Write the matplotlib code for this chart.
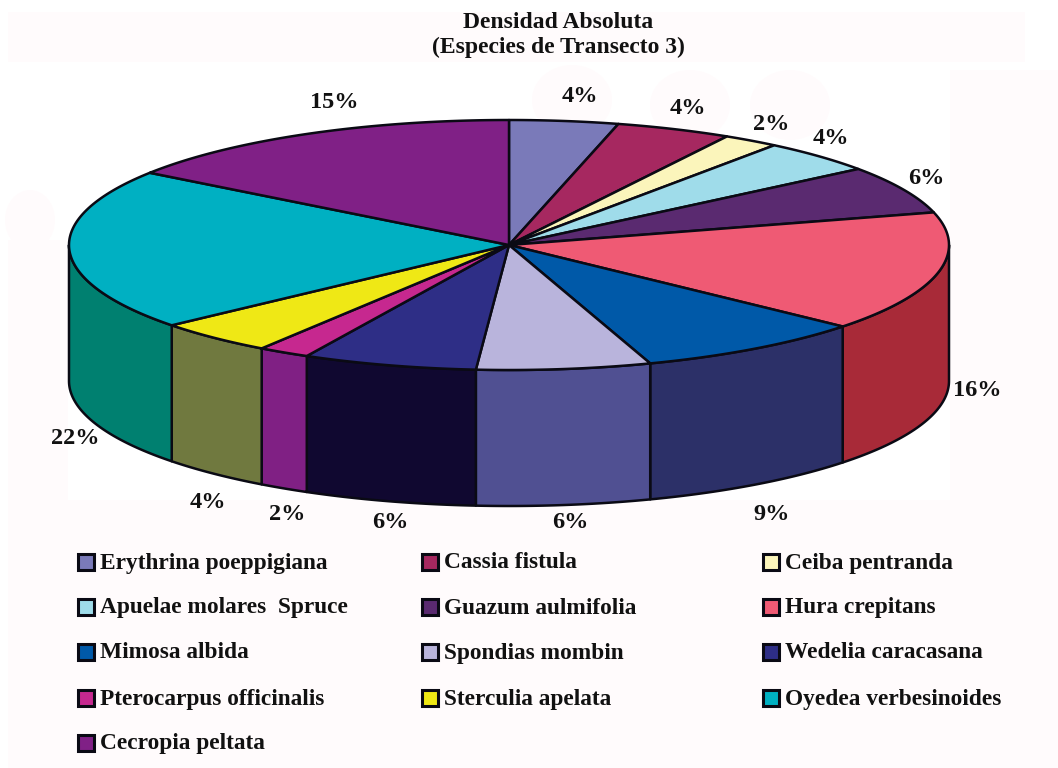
import numpy as np
import matplotlib
matplotlib.use("Agg")
from matplotlib import pyplot as plt
from matplotlib.patches import Rectangle, Ellipse

species = ['Erythrina poeppigiana', 'Cassia fistula', 'Ceiba pentranda',
           'Apuelae molares  Spruce', 'Guazum aulmifolia', 'Hura crepitans',
           'Mimosa albida', 'Spondias mombin', 'Wedelia caracasana',
           'Pterocarpus officinalis', 'Sterculia apelata', 'Oyedea verbesinoides',
           'Cecropia peltata']
# printed labels
labels = ['4%', '4%', '2%', '4%', '6%', '16%', '9%', '6%', '6%', '2%', '4%', '22%', '15%']
# slice sizes
shares = [4.0, 4.25, 2.05, 4.3, 6.2, 15.5, 8.5, 6.4, 6.4, 1.9, 4.4, 20.9, 15.2]

top_colors = ['#7a7ab9', '#a62860', '#fbf5bb', '#9fdcea', '#5a2a70', '#ef5a74', '#0059a8',
              '#b9b4dc', '#2e2e86', '#c6288f', '#efe815', '#00b0c2', '#802086']
side_colors = ['#52528c', '#701a40', '#a8a47c', '#6a949c', '#3c1c4a', '#a82a38', '#2c3068',
               '#505092', '#100830', '#802084', '#70793f', '#008070', '#551659']

label_xy = [(580, 97), (688, 109), (771, 124), (831, 139), (926, 178), (977, 390), (772, 515),
            (570, 523), (390, 523), (287, 514), (208, 502), (75, 438), (334, 103)]

cx, cy, rx, ry, depth = 509, 245, 440, 125, 136
pale = '#fffbfc'


def arc(t0, t1):
    t = np.radians(np.linspace(t0, t1, 80))
    return cx + rx * np.sin(t), cy - ry * np.cos(t)


plt.rcParams['font.family'] = ['Liberation Serif', 'DejaVu Serif']
plt.rcParams['font.weight'] = 'bold'

fig = plt.figure(figsize=(10.58, 7.68), dpi=100, facecolor='white')
ax = fig.add_axes([0, 0, 1, 1])
ax.set_xlim(0, 1058)
ax.set_ylim(768, 0)
ax.axis('off')

# faint blotches of the scanned background
ax.add_patch(Rectangle((8, 12), 1017, 50, fc=pale, ec='none'))
ax.add_patch(Rectangle((8, 500), 1050, 268, fc=pale, ec='none'))
ax.add_patch(Rectangle((950, 70), 108, 430, fc=pale, ec='none'))
ax.add_patch(Rectangle((8, 240), 60, 260, fc=pale, ec='none'))
ax.add_patch(Ellipse((30, 220), 50, 60, fc=pale, ec='none'))
for x, y in [(572, 100), (690, 105), (790, 105)]:
    ax.add_patch(Ellipse((x, y), 80, 70, fc=pale, ec='none'))

edges = np.concatenate([[0], np.cumsum(shares)]) / np.sum(shares) * 360

# walls of the front half
for i in range(len(shares)):
    t0, t1 = max(edges[i], 90), min(edges[i + 1], 270)
    if t1 <= t0:
        continue
    x, y = arc(t0, t1)
    ax.fill(np.r_[x, x[::-1]], np.r_[y, y[::-1] + depth], fc=side_colors[i], ec='#0a0a14', lw=1.8,
            joinstyle='round')

# top face
for i in range(len(shares)):
    x, y = arc(edges[i], edges[i + 1])
    ax.fill(np.r_[cx, x], np.r_[cy, y], fc=top_colors[i], ec='#0a0a14', lw=1.8, joinstyle='round')

for txt, (x, y) in zip(labels, label_xy):
    ax.text(x, y, txt, ha='center', va='center', fontsize=17.5, color='#111111')

ax.text(558, 23, 'Densidad Absoluta', ha='center', va='center', fontsize=17, color='#111111')
ax.text(558, 47, '(Especies de Transecto 3)', ha='center', va='center', fontsize=17, color='#111111')

# legend
col_x = [78, 422, 763]
row_y = [562, 607, 652, 698, 743]
for i, name in enumerate(species):
    x, y = col_x[i % 3], row_y[i // 3]
    ax.add_patch(Rectangle((x, y - 8), 16, 16, fc=top_colors[i], ec='#0a0a14', lw=2.2))
    ax.text(x + 22, y + 1, name, ha='left', va='center', fontsize=16.8, color='#111111')

fig.savefig('out.png', dpi=100, facecolor=fig.get_facecolor())
